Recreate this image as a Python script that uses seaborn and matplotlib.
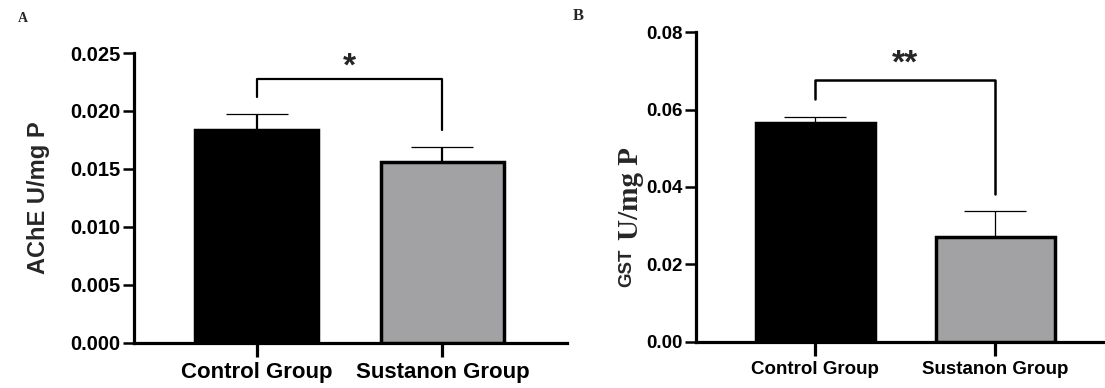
import matplotlib as mpl, numpy as np, pandas as pd
import matplotlib.pyplot as plt
import seaborn as sns

# Data
groups = ['Control Group', 'Sustanon Group']
ache_mean = [0.01836, 0.0156]
ache_sem = [0.00138, 0.0013]
gst_mean = [0.0565, 0.0271]
gst_sem = [0.0015, 0.0067]
ache_ticks = [0.000, 0.005, 0.010, 0.015, 0.020, 0.025]
gst_ticks = [0.00, 0.02, 0.04, 0.06, 0.08]

bar_colors = ['#000000', '#a2a1a6']

sns.set_theme(style='ticks')
plt.rcParams['font.family'] = ['Liberation Sans', 'DejaVu Sans']

fig = plt.figure(figsize=(11.05, 3.88), dpi=100)
axA = fig.add_axes([0.1213, 0.116, 0.3918, 0.7474])
axB = fig.add_axes([0.630, 0.1186, 0.372, 0.7989])

sans = ['Liberation Sans', 'DejaVu Sans']
serif = ['Liberation Serif', 'DejaVu Serif']


def draw_panel(ax, means, sems, ticks, fmt, ysize, xsize, errlw):
    df = pd.DataFrame({'group': groups, 'value': means})
    sns.barplot(data=df, x='group', y='value', hue='group', palette=bar_colors,
                edgecolor='black', linewidth=2.5, width=0.66, legend=False,
                errorbar=None, ax=ax, zorder=3)
    ax.errorbar([0, 1], means, yerr=[[0, 0], sems], fmt='none', ecolor='black',
                elinewidth=errlw, capsize=22, capthick=0.9, zorder=2)
    ax.set_ylim(ticks[0], ticks[-1])
    ax.set_yticks(ticks)
    ax.set_yticklabels([fmt % t for t in ticks])
    ax.set_xlabel('')
    ax.set_ylabel('')
    for s in ['top', 'right']:
        ax.spines[s].set_visible(False)
    for s in ['left', 'bottom']:
        ax.spines[s].set_linewidth(2.3)
        ax.spines[s].set_color('black')
    ax.tick_params(axis='y', length=8, width=1.8, color='black', pad=2)
    ax.tick_params(axis='x', length=10, width=2.3, color='black', pad=4)
    for lab in ax.get_yticklabels():
        lab.set_fontfamily(sans)
        lab.set_fontweight('bold')
        lab.set_fontsize(ysize)
        lab.set_color('black')
    for lab in ax.get_xticklabels():
        lab.set_fontfamily(sans)
        lab.set_fontweight('bold')
        lab.set_fontsize(xsize)
        lab.set_color('black')


# Panel A
draw_panel(axA, ache_mean, ache_sem, ache_ticks, '%.3f', 14.5, 16, 1.6)
axA.set_xlim(-0.66, 1.67)
axA.set_ylabel('AChE U/mg P', fontsize=17, fontweight='bold', family=sans)
axA.yaxis.set_label_coords(-0.195, 0.5)
axA.plot([0, 0, 1, 1], [0.0212, 0.02276, 0.02276, 0.0184], color='black', lw=1.6)
axA.text(0.5, 0.0238, '*', ha='center', va='center', fontsize=24,
         fontweight='bold', family=sans)

# Panel B
draw_panel(axB, gst_mean, gst_sem, gst_ticks, '%.2f', 13.5, 13.5, 0.9)
axB.set_xlim(-0.66, 1.62)
axB.plot([0, 0, 1, 1], [0.0627, 0.0676, 0.0676, 0.0382], color='black', lw=1.8)
axB.text(0.5, 0.0717, '**', ha='center', va='center', fontsize=24,
         fontweight='bold', family=sans)

# split y label of panel B: sans + serif
fig.text(0.567, 0.31, 'GST', rotation=90, ha='center', va='center',
         family=sans, fontweight='bold', fontsize=13.5)
fig.text(0.571, 0.50, 'U/mg P', rotation=90, ha='center', va='center',
         family=serif, fontweight='bold', fontsize=21)

# panel letters
fig.text(0.016, 0.953, 'A', family=serif, fontweight='bold', fontsize=10,
         ha='left', va='center')
fig.text(0.518, 0.96, 'B', family=serif, fontweight='bold', fontsize=12,
         ha='left', va='center')

plt.savefig('out.png', dpi=100)
